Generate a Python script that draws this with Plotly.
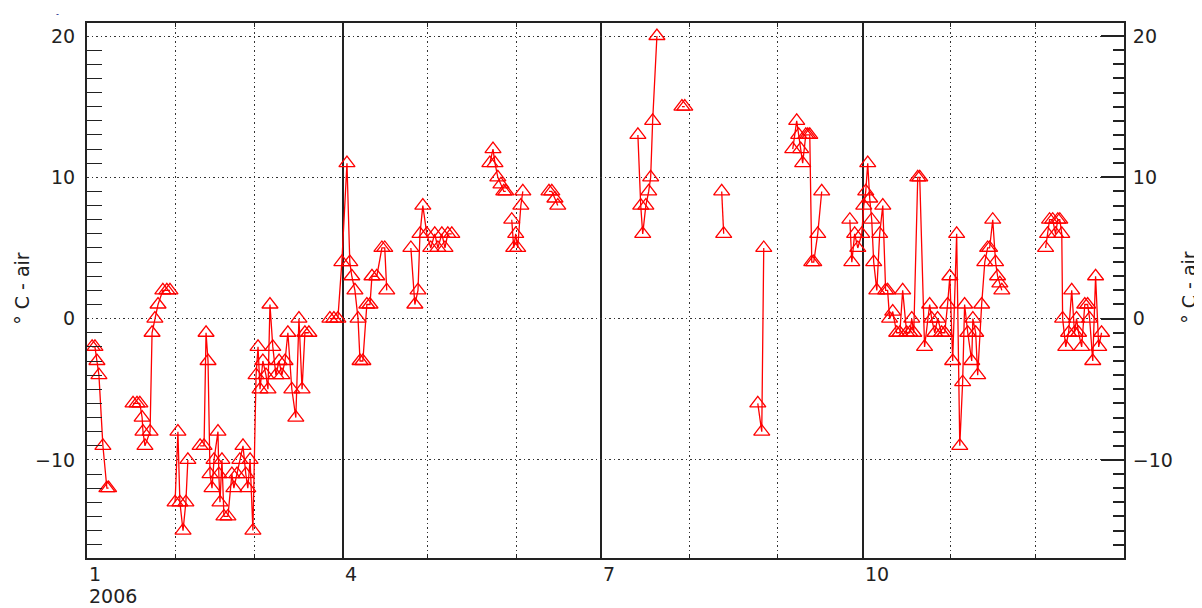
import datetime as dt
import plotly.graph_objects as go

# ---- data: day offset from 2006-01-01 and air temperature (deg C); None = gap ----
day_of_year = [
    1.8, 2.8, 3.5, 4.2, 5.6, 7.0, 7.6, None,
    16.2, 17.6, 18.6, 19.4, 19.7, 20.4, 22.2, 22.9, 23.9, 25.0, 26.7, 28.1, 29.2, None,
    31.0, 32.0, 32.7, 33.8, 34.8, 35.5, None,
    39.8, 41.2, 41.9, 42.6, 43.3, 44.0, 44.7, 46.1, 46.4, 46.8, 47.5, 48.2, 49.6, 51.0,
    51.7, 52.8, 53.8, 54.9, 55.9, 56.6, 57.4, 58.4, 59.5, 60.2, 60.9, 61.9, 63.0, 63.7,
    64.4, 65.4, 66.5, 67.6, 68.6, 69.7, 70.7, 72.1, 73.5, 74.6, 75.7, 76.7, 78.1, None,
    85.5, 86.9, 88.3, 89.7, 91.5, 92.5, 93.2, 94.3, 95.4, 96.1, 97.1, 98.5, 99.6, 100.3,
    102.0, 103.8, 104.8, 105.5, None,
    114.0, 115.4, 116.5, 117.2, 118.2, 119.6, 121.0, 122.4, 123.5, 124.9, 126.0, 127.0, 128.4, None,
    141.8, 142.9, 143.6, 144.6, 145.7, 146.7, 147.4, None,
    149.5, 150.2, 150.9, 151.6, 152.7, 153.4, None,
    162.6, 163.6, 164.7, 165.7, None,
    193.9, 194.9, 195.6, 196.7, 197.7, 198.4, 199.1, 200.6, None,
    209.4, 210.4, None,
    223.4, 224.1, None,
    236.1, 237.5, 238.2, None,
    248.4, 249.8, 250.5, 251.2, 251.9, 253.0, 253.7, 254.4, 255.1, 255.8, 257.2, 258.6, None,
    268.5, 269.2, 270.2, 271.3, 272.7, 273.4, 274.1, 274.8, 275.5, 276.2, 276.9, 278.0,
    279.0, 280.1, 281.1, 281.8, 282.5, 283.6, 285.0, 286.1, 287.1, 288.5, 289.6, 290.3,
    291.0, 292.4, 293.1, 294.8, 296.6, 297.3, 298.4, 299.4, 300.8, 301.9, 302.9, 303.7,
    304.7, 306.1, 307.2, 308.2, 308.9, 310.0, 311.4, 311.8, 312.8, 313.5, 314.9, 316.0,
    317.0, 317.7, 318.8, 319.8, 320.5, 321.3, 322.0, None,
    337.4, 338.1, 338.8, 339.9, 340.9, 341.7, 342.4, 343.1, 343.4, 344.5, 345.5, 346.6,
    347.6, 348.3, 349.0, 350.1, 351.2, 352.2, 352.9, 354.0, 355.0, 356.1, 357.1,
]
temp_c = [
    -2, -2, -3, -4, -9, -12, -12, None,
    -6, -6, -6, -7, -8, -9, -8, -1, 0, 1, 2, 2, 2, None,
    -13, -8, -13, -15, -13, -10, None,
    -9, -9, -1, -3, -11, -12, -10, -8, -11, -13, -10, -14, -14, -11,
    -12, -11, -10, -9, -11, -12, -10, -15, -4, -2, -5, -3, -4, -5,
    1, -2, -4, -3, -4, -3, -1, -5, -7, 0, -5, -1, -1, None,
    0, 0, 0, 4, 11, 4, 3, 2, 0, -3, -3, 1, 1, 3,
    3, 5, 5, 2, None,
    5, 1, 2, 6, 8, 6, 5, 6, 5, 6, 5, 6, 6, None,
    11, 12, 11, 10, 9.5, 9, 9, None,
    7, 5, 6, 5, 8, 9, None,
    9, 9, 8.5, 8, None,
    13, 8, 6, 8, 9, 10, 14, 20, None,
    15, 15, None,
    9, 6, None,
    -6, -8, 5, None,
    12, 14, 13, 12, 11, 13, 13, 13, 4, 4, 6, 9, None,
    7, 4, 6, 5, 6, 8, 9, 11, 8.5, 7, 4, 2,
    6, 8, 2, 2, 0, 0.5, -1, -1, 2, -1, -1, 0,
    -1, 10, 10, -2, 1, 0, -1, 0, -1, -1, 1, 3,
    -3, 6, -9, -4.5, 1, -1, -3, 0, -1, -4, 1, 4,
    5, 5, 7, 4, 3, 2.5, 2, None,
    5, 6, 7, 7, 6, 7, 7, 6, 0, -2, -1, 2,
    -1, 0, -1, -2, 1, 1, 0, -3, 3, -2, -1,
]
quarter_labels = ["1", "4", "7", "10"]
quarter_dates = ["2006-01-01", "2006-04-01", "2006-07-01", "2006-10-01"]
year_label = "2006"
y_title = "° C - air"

base = dt.datetime(2006, 1, 1)
dates = [base + dt.timedelta(days=d) if d is not None else None for d in day_of_year]

FONT = "DejaVu Sans"
TXT = "#222222"
Y_RANGE = [-16.94, 20.92]
DOT = "1.5px,3px"

fig = go.Figure()
fig.add_trace(go.Scatter(
    x=dates, y=temp_c, mode="lines+markers",
    line=dict(color="#ff0000", width=1.3),
    marker=dict(symbol="triangle-up-open", size=14, color="#ff0000",
                line=dict(color="#ff0000", width=1.3)),
    connectgaps=False, showlegend=False, hoverinfo="x+y",
))
# helper trace so the right-hand axis is drawn
fig.add_trace(go.Scatter(x=[dates[0]], y=[None], yaxis="y2", showlegend=False,
                         mode="markers", hoverinfo="skip"))

# page body has an 8px margin, so the figure is 8px smaller than the window
fig.update_layout(
    width=1194, height=600,
    margin=dict(l=79, r=78, t=15, b=50),
    paper_bgcolor="white", plot_bgcolor="white",
    font=dict(family=FONT, size=19, color=TXT),
    xaxis=dict(
        type="date", range=["2006-01-01", "2007-01-01"],
        tick0="2006-01-01", dtick="M3",
        showgrid=True, gridcolor="#222222", gridwidth=1.6,
        showticklabels=False, ticks="inside", ticklen=4, tickcolor="#222222",
        showline=True, linecolor="#222222", linewidth=2, mirror="ticks",
        zeroline=False,
        minor=dict(dtick="M1", tick0="2006-01-01", showgrid=True, gridcolor="#333333",
                   gridwidth=1.2, griddash=DOT, ticks="inside", ticklen=4,
                   tickcolor="#222222"),
    ),
    yaxis=dict(
        range=Y_RANGE, dtick=10, tick0=0,
        showgrid=True, gridcolor="#333333", gridwidth=1.2, griddash=DOT,
        zeroline=False, ticks="", ticklabelstandoff=6,
        showline=True, linecolor="#222222", linewidth=2,
        minor=dict(dtick=1, tick0=0, ticks="inside", ticklen=15,
                   tickcolor="#222222", showgrid=False),
        tickfont=dict(family=FONT, size=19, color=TXT),
    ),
    yaxis2=dict(
        range=Y_RANGE, dtick=10, tick0=0, overlaying="y", side="right",
        showgrid=False, zeroline=False,
        ticks="inside", ticklen=23, tickwidth=1.5, tickcolor="#222222",
        ticklabelstandoff=3,
        showline=True, linecolor="#222222", linewidth=2,
        minor=dict(dtick=1, tick0=0, ticks="inside", ticklen=11,
                   tickcolor="#222222", showgrid=False),
        tickfont=dict(family=FONT, size=19, color=TXT),
    ),
)

annotations = []
for lab, d in zip(quarter_labels, quarter_dates):
    annotations.append(dict(x=d, xref="x", y=-0.030, yref="paper", text=lab,
                            showarrow=False, xanchor="left", yanchor="middle",
                            font=dict(family=FONT, size=19, color=TXT)))
annotations.append(dict(x=quarter_dates[0], xref="x", y=-0.071, yref="paper", text=year_label,
                        showarrow=False, xanchor="left", yanchor="middle",
                        font=dict(family=FONT, size=19, color=TXT)))
annotations.append(dict(x=-0.0627, xref="paper", y=0.505, yref="paper", text=y_title,
                        textangle=-90, showarrow=False, xanchor="center", yanchor="middle",
                        font=dict(family=FONT, size=19, color=TXT)))
annotations.append(dict(x=1.0627, xref="paper", y=0.505, yref="paper", text=y_title,
                        textangle=-90, showarrow=False, xanchor="center", yanchor="middle",
                        font=dict(family=FONT, size=19, color=TXT)))
annotations.append(dict(x=-0.028, xref="paper", y=1.026, yref="paper", text="-",
                        showarrow=False, xanchor="center", yanchor="top", borderpad=0,
                        font=dict(family=FONT, size=8, color="#000080")))
fig.update_layout(annotations=annotations)

fig.write_html("out.html")
